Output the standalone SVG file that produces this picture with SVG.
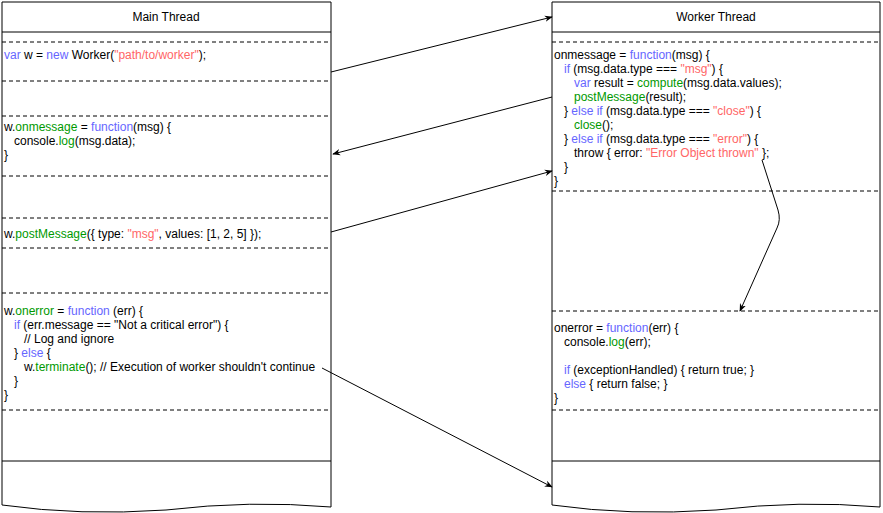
<svg xmlns="http://www.w3.org/2000/svg" width="883" height="513" viewBox="0 0 883 513">
<style>
text{font-family:"Liberation Sans",Arial,sans-serif;font-size:12px;fill:#000}
.b{fill:#6666ff}.g{fill:#009900}.r{fill:#ff6666}
.box{fill:#fff;stroke:#000;stroke-width:1}
.d{stroke:#000;stroke-dasharray:4 3;fill:none}
.c{stroke:#000;fill:none;stroke-width:1}
</style>
<defs><marker id="a" viewBox="0 0 10 10" refX="9" refY="5" markerWidth="8" markerHeight="8" orient="auto"><path d="M0,1 L10,5 L0,9 L3,5z" fill="#000"/></marker></defs>
<g id="main">
<path class="box" d="M2,2 H331 V507 Q250,500 166,510 Q80,516 2,505 Z"/>
<line class="c" x1="2" y1="32" x2="331" y2="32"/>
<line class="c" x1="2" y1="461" x2="331" y2="461"/>
<text x="166" y="21" text-anchor="middle">Main Thread</text>
<g class="d"><path d="M2,42H331M2,81H331M2,116H331M2,176H331M2,218H331M2,248H331M2,293H331M2,410H331"/></g>
<text x="4" y="59"><tspan class="b">var</tspan> w = <tspan class="b">new</tspan> Worker(<tspan class="r">"path/to/worker"</tspan>);</text>
<text x="4" y="131">w.<tspan class="g">onmessage</tspan> = <tspan class="b">function</tspan>(msg) {</text>
<text x="14" y="145">console.<tspan class="g">log</tspan>(msg.data);</text>
<text x="4" y="159">}</text>
<text x="4" y="238">w.<tspan class="g">postMessage</tspan>({ type: <tspan class="r">"msg"</tspan>, values: [1, 2, 5] });</text>
<text x="4" y="315">w.<tspan class="g">onerror</tspan> = <tspan class="b">function</tspan> (err) {</text>
<text x="14" y="329"><tspan class="b">if</tspan> (err.message == "Not a critical error") {</text>
<text x="24" y="343">// Log and ignore</text>
<text x="14" y="357">} <tspan class="b">else</tspan> {</text>
<text x="24" y="371">w.<tspan class="g">terminate</tspan>(); // Execution of worker shouldn't continue</text>
<text x="14" y="385">}</text>
<text x="4" y="399">}</text>
</g>
<g id="worker">
<path class="box" d="M552,2 H880 V507 Q800,500 716,510 Q630,516 552,505 Z"/>
<line class="c" x1="552" y1="32" x2="880" y2="32"/>
<line class="c" x1="552" y1="461" x2="880" y2="461"/>
<text x="716" y="21" text-anchor="middle">Worker Thread</text>
<g class="d"><path d="M552,42H880M552,191H880M552,311H880M552,410H880"/></g>
<text x="554" y="59">onmessage = <tspan class="b">function</tspan>(msg) {</text>
<text x="564" y="73"><tspan class="b">if</tspan> (msg.data.type === <tspan class="r">"msg"</tspan>) {</text>
<text x="574" y="87"><tspan class="b">var</tspan> result = <tspan class="g">compute</tspan>(msg.data.values);</text>
<text x="574" y="101"><tspan class="g">postMessage</tspan>(result);</text>
<text x="564" y="115">} <tspan class="b">else if</tspan> (msg.data.type === <tspan class="r">"close"</tspan>) {</text>
<text x="574" y="129"><tspan class="g">close</tspan>();</text>
<text x="564" y="143">} <tspan class="b">else if</tspan> (msg.data.type === <tspan class="r">"error"</tspan>) {</text>
<text x="574" y="157">throw { error: <tspan class="r">"Error Object thrown"</tspan> };</text>
<text x="564" y="171">}</text>
<text x="554" y="185">}</text>
<text x="554" y="332">onerror = <tspan class="b">function</tspan>(err) {</text>
<text x="564" y="346">console.<tspan class="g">log</tspan>(err);</text>
<text x="564" y="374"><tspan class="b">if</tspan> (exceptionHandled) { return true; }</text>
<text x="564" y="388"><tspan class="b">else</tspan> { return false; }</text>
<text x="554" y="402">}</text>
</g>
<g id="connectors">
<path class="c" d="M331,72 L552,17" marker-end="url(#a)"/>
<path class="c" d="M552,97 L333,154" marker-end="url(#a)"/>
<path class="c" d="M331,232 L552,171" marker-end="url(#a)"/>
<path class="c" d="M762,160 L778,210 Q781,220 777,228 L740,311" marker-end="url(#a)"/>
<path class="c" d="M322,368 L552,487" marker-end="url(#a)"/>
</g>
</svg>
